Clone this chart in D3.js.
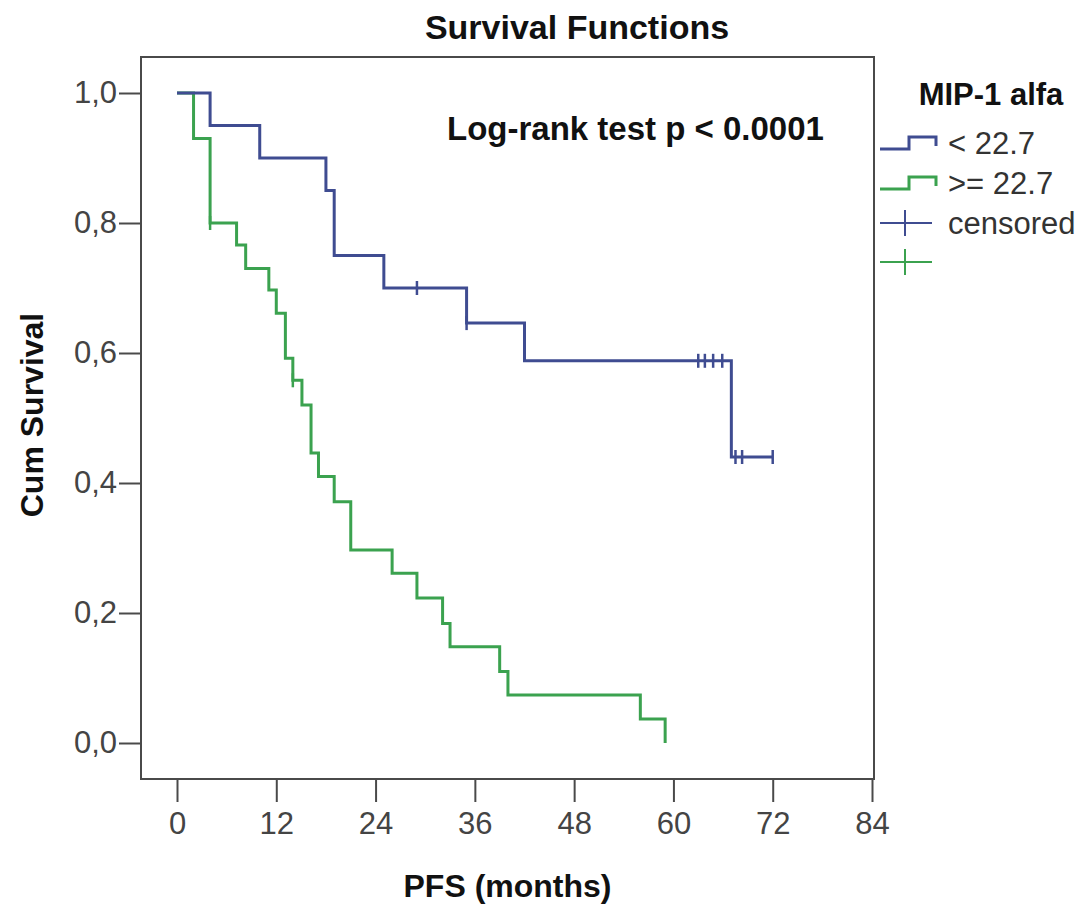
<!DOCTYPE html>
<html>
<head>
<meta charset="utf-8">
<script src="https://cdn.jsdelivr.net/npm/d3@7"></script>
<style>
  html, body { margin: 0; padding: 0; background: #fff; }
  svg { display: block; }
  text { font-family: "Liberation Sans", Arial, sans-serif; }
</style>
</head>
<body>
<svg id="chart" width="1090" height="906"></svg>
<script>
// ---------------- data ----------------
const xTicks = [0, 12, 24, 36, 48, 60, 72, 84];
const yTicks = [0, 0.2, 0.4, 0.6, 0.8, 1.0];
const yTickLabels = ["0,0", "0,2", "0,4", "0,6", "0,8", "1,0"];

// group "< 22.7" : step times and survival after each step
const lowTimes = [0, 4, 10, 18, 19, 25, 35, 42, 67];
const lowSurv  = [1.0, 0.95, 0.90, 0.85, 0.75, 0.70, 0.646, 0.588, 0.44];
const lowEnd = 72;
const lowCensorTimes = [29, 35, 63, 63.8, 64.8, 65.9, 67.5, 68.3, 72];

// group ">= 22.7"
const highTimes = [0, 2, 4, 7.2, 8.3, 11.1, 12, 13.1, 14, 15.1, 16.2, 17.1, 19, 21, 26, 29, 32.1, 33, 39, 40, 56, 59];
const highSurv  = [1.0, 0.93, 0.80, 0.766, 0.73, 0.697, 0.661, 0.592, 0.558, 0.52, 0.446, 0.41, 0.371, 0.297, 0.261, 0.223, 0.184, 0.148, 0.11, 0.074, 0.037, 0.0];
const highEnd = 59;
const highCensorTimes = [4, 14];

const groupNames = ["< 22.7", ">= 22.7"];
const groupColors = ["#3f4c91", "#3ba24f"];

// ---------------- layout ----------------
const svg = d3.select("#chart");
const frame = {x0: 141, x1: 874, y0: 57, y1: 779};
const x = d3.scaleLinear().domain([0, 84]).range([177, 872]);
const y = d3.scaleLinear().domain([0, 1]).range([743, 93]);

// title
svg.append("text").attr("x", 577).attr("y", 39).attr("text-anchor", "middle")
  .attr("font-size", 34).attr("font-weight", "bold").attr("fill", "#111")
  .text("Survival Functions");

// frame
svg.append("rect").attr("x", frame.x0).attr("y", frame.y0)
  .attr("width", frame.x1 - frame.x0).attr("height", frame.y1 - frame.y0)
  .attr("fill", "none").attr("stroke", "#4a4a4a").attr("stroke-width", 2);

// axes
const yAxis = d3.axisLeft(y).tickValues(yTicks)
  .tickFormat((d, i) => yTickLabels[i]).tickSize(22).tickPadding(2).tickSizeOuter(0);
const gy = svg.append("g").attr("transform", `translate(${frame.x0},0)`).call(yAxis);
gy.select(".domain").remove();
gy.selectAll(".tick line").attr("stroke", "#4a4a4a").attr("stroke-width", 2);
gy.selectAll(".tick text").attr("font-size", 31).attr("fill", "#444")
  .attr("font-family", "Liberation Sans, Arial, sans-serif");

const xAxis = d3.axisBottom(x).tickValues(xTicks).tickSize(23).tickPadding(10).tickSizeOuter(0);
const gx = svg.append("g").attr("transform", `translate(0,${frame.y1})`).call(xAxis);
gx.select(".domain").remove();
gx.selectAll(".tick line").attr("stroke", "#4a4a4a").attr("stroke-width", 2);
gx.selectAll(".tick text").attr("font-size", 31).attr("fill", "#444")
  .attr("font-family", "Liberation Sans, Arial, sans-serif");

// axis titles
svg.append("text").attr("x", (frame.x0 + frame.x1) / 2).attr("y", 897)
  .attr("text-anchor", "middle").attr("font-size", 32).attr("font-weight", "bold").attr("fill", "#111")
  .text("PFS (months)");
svg.append("text").attr("transform", "translate(43,415) rotate(-90)")
  .attr("text-anchor", "middle").attr("font-size", 32).attr("font-weight", "bold").attr("fill", "#111")
  .text("Cum Survival");

// ---------------- curves ----------------
function stepPoints(times, surv, end) {
  const pts = times.map((t, i) => [t, surv[i]]);
  pts.push([end, surv[surv.length - 1]]);
  return pts;
}
function survAt(times, surv, t) {
  let s = surv[0];
  for (let i = 0; i < times.length; i++) if (times[i] <= t) s = surv[i];
  return s;
}
const line = d3.line().x(d => x(d[0])).y(d => y(d[1])).curve(d3.curveStepAfter);

const groups = [
  {times: lowTimes, surv: lowSurv, end: lowEnd, cens: lowCensorTimes, color: groupColors[0]},
  {times: highTimes, surv: highSurv, end: highEnd, cens: highCensorTimes, color: groupColors[1]}
];
// draw green first so blue overlaps at start like reference
[groups[1], groups[0]].forEach(g => {
  svg.append("path").datum(stepPoints(g.times, g.surv, g.end))
    .attr("d", line).attr("fill", "none").attr("stroke", g.color)
    .attr("stroke-width", 3).attr("stroke-linejoin", "miter");
  svg.append("g").selectAll("line").data(g.cens).join("line")
    .attr("x1", d => x(d)).attr("x2", d => x(d))
    .attr("y1", d => y(survAt(g.times, g.surv, d)) - 7)
    .attr("y2", d => y(survAt(g.times, g.surv, d)) + 7)
    .attr("stroke", g.color).attr("stroke-width", 2.5);
});

// annotation
svg.append("text").attr("x", 447).attr("y", 140).attr("font-size", 33)
  .attr("font-weight", "bold").attr("fill", "#111")
  .text("Log-rank test p < 0.0001");

// ---------------- legend ----------------
const lg = svg.append("g");
lg.append("text").attr("x", 991).attr("y", 105).attr("text-anchor", "middle")
  .attr("font-size", 31).attr("font-weight", "bold").attr("fill", "#111").text("MIP-1 alfa");
const rowY = [143, 183, 223, 262];
groupNames.forEach((name, i) => {
  const c = rowY[i];
  lg.append("path")
    .attr("d", `M880,${c + 6}H909V${c - 6}H936V${c + 3}`)
    .attr("fill", "none").attr("stroke", groupColors[i]).attr("stroke-width", 3);
  lg.append("text").attr("x", 948).attr("y", c + 11).attr("font-size", 31)
    .attr("fill", "#333").text(name);
});
[0, 1].forEach(i => {
  const c = rowY[2 + i];
  lg.append("line").attr("x1", 880).attr("x2", 932).attr("y1", c).attr("y2", c)
    .attr("stroke", groupColors[i]).attr("stroke-width", 2);
  lg.append("line").attr("x1", 905).attr("x2", 905).attr("y1", c - 13).attr("y2", c + 13)
    .attr("stroke", groupColors[i]).attr("stroke-width", 2);
});
lg.append("text").attr("x", 948).attr("y", rowY[2] + 11).attr("font-size", 31)
  .attr("fill", "#333").text("censored");
</script>
</body>
</html>
